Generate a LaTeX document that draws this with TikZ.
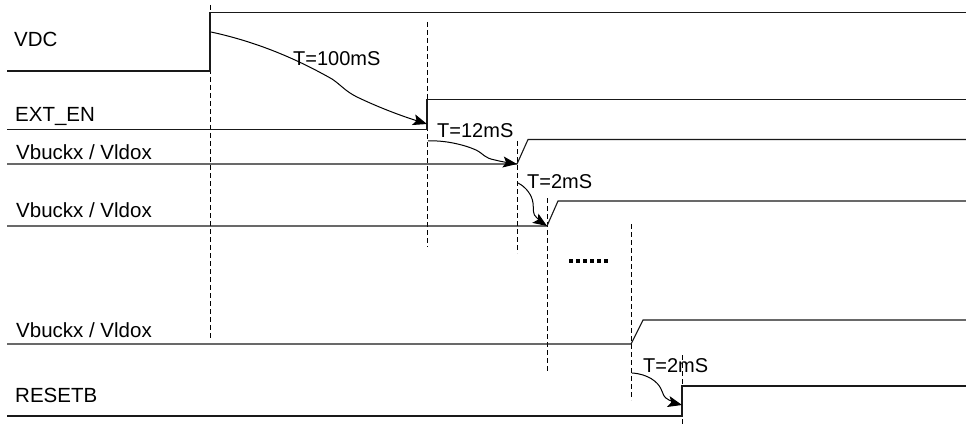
\documentclass[tikz,border=0pt]{standalone}
\usepackage{fontspec}
\setmainfont{Liberation Sans}
\usetikzlibrary{arrows.meta}
\tikzset{
  sig/.style={line width=1.1pt, line join=miter, black!90},
  guide/.style={line width=1pt, dash pattern=on 5pt off 3pt, black},
  lbl/.style={anchor=base west, inner sep=0pt, font=\fontsize{20.5}{24}\selectfont},
  tlbl/.style={anchor=base west, inner sep=0pt, font=\fontsize{20}{24}\selectfont},
  tarrow/.style={line width=1pt, -{Stealth[length=14pt,width=11pt,inset=3pt]}},
  dot/.style={rectangle, fill=black, inner sep=0pt, minimum size=3.4pt}
}
\begin{document}
\begin{tikzpicture}[x=1pt, y=-1pt]
\useasboundingbox (0,0) rectangle (966,425);

% guide lines
\draw[guide] (210,5) -- (210,340);
\draw[guide] (427,22) -- (427,247);
\draw[guide] (517,141) -- (517,253);
\draw[guide] (547,198) -- (547,373);
\draw[guide] (631,224) -- (631,400);
\draw[guide] (682,355) -- (682,425);

% signals
\draw[sig] (7,71) -- (210,71) -- (210,12.5) -- (966,12.5);
\draw[sig] (7,129.5) -- (427,129.5) -- (427,99.3) -- (966,99.3);
\draw[sig] (7,164) -- (517,164) -- (528,139.5) -- (966,139.5);
\draw[sig] (7,226) -- (547,226) -- (558,201) -- (966,201);
\draw[sig] (7,344) -- (631,344) -- (643,320) -- (966,320);
\draw[sig] (7,416) -- (682,416) -- (682,386) -- (966,386);

% signal labels
\node[lbl] (lvdc) at (14,47) {VDC};
\node[lbl] (lext) at (15,122) {EXT\_EN};
\node[lbl] (lv1) at (16,159) {Vbuckx / Vldox};
\node[lbl] (lv2) at (16,217) {Vbuckx / Vldox};
\node[lbl] (lv3) at (16,337) {Vbuckx / Vldox};
\node[lbl] (lrst) at (15,402) {RESETB};

% timing labels
\node[tlbl] (t100) at (293,66) {T=100mS};
\node[tlbl] (t12) at (437,138) {T=12mS};
\node[tlbl] (t2a) at (527,188) {T=2mS};
\node[tlbl] (t2b) at (643,372) {T=2mS};

% dots
\foreach \i in {0,...,5} \node[dot] (d\i) at (571+7*\i,261) {};

% arrow end points
\coordinate (a1s) at (211,32);
\coordinate (a1e) at (427,124);
\coordinate (a2s) at (428,141);
\coordinate (a2e) at (517,164);
\coordinate (a3s) at (518,183);
\coordinate (a3e) at (547,226);
\coordinate (a4s) at (632,373);
\coordinate (a4e) at (682,405);

\draw[tarrow] (a1s) .. controls (262,43) and (302,62) .. (332,79)
  .. controls (341,85) and (345,91) .. (357,97)
  .. controls (382,109) and (405,117) .. (a1e);
\draw[tarrow] (a2s) .. controls (445,140) and (465,145) .. (476,150)
  .. controls (484,154) and (484,158) .. (495,160)
  .. controls (503,162) and (510,163) .. (a2e);
\draw[tarrow] (a3s) .. controls (526,187) and (532,195) .. (533,203)
  .. controls (534,210) and (532,214) .. (537,218)
  .. controls (541,221) and (544,224) .. (a3e);
\draw[tarrow] (a4s) .. controls (648,374) and (658,382) .. (661,389)
  .. controls (664,395) and (663,397) .. (669,400)
  .. controls (674,402) and (678,404) .. (a4e);
\end{tikzpicture}
\end{document}
